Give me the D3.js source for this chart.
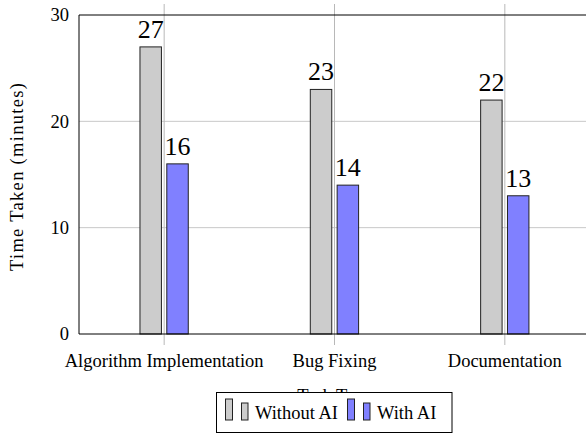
<!DOCTYPE html>
<html>
<head>
<meta charset="utf-8">
<script src="https://cdn.jsdelivr.net/npm/d3@7"></script>
<style>
  html, body { margin: 0; padding: 0; background: #fff; }
  svg { display: block; }
  text { font-family: "Liberation Serif", "Times New Roman", serif; fill: #000; }
</style>
</head>
<body>
<svg id="chart" width="586" height="437"></svg>
<script>
const categories = ["Algorithm Implementation", "Bug Fixing", "Documentation"];
const seriesNames = ["Without AI", "With AI"];
const withoutAI = [27, 23, 22];
const withAI = [16, 14, 13];
const yTicks = [0, 10, 20, 30];
const seriesColors = ["#cccccc", "#8080ff"];

const svg = d3.select("#chart");
const mLeft = 79, mRight = 590, mTop = 15, mBottom = 334;

const x = d3.scaleBand().domain(categories).range([mLeft, mRight]);
const y = d3.scaleLinear().domain([0, 30]).range([mBottom, mTop]);
const xs = d3.scaleBand().domain(seriesNames).range([-24.2, 24.1]).paddingInner(0.2);

const data = categories.map((c, i) => ({ cat: c, vals: [withoutAI[i], withAI[i]] }));

// horizontal grid
svg.append("g").selectAll("line").data(yTicks.filter(t => t > 0 && t < 30)).join("line")
  .attr("x1", mLeft).attr("x2", 586)
  .attr("y1", d => y(d)).attr("y2", d => y(d))
  .attr("stroke", "#c8c8c8").attr("stroke-width", 1);

// vertical grid / ticks
svg.append("g").selectAll("line").data(categories).join("line")
  .attr("x1", d => x(d) + x.bandwidth() / 2).attr("x2", d => x(d) + x.bandwidth() / 2)
  .attr("y1", 4).attr("y2", 345)
  .attr("stroke", "#b8b8b8").attr("stroke-width", 1);

// bars
const groups = svg.append("g").selectAll("g").data(data).join("g")
  .attr("transform", d => `translate(${x(d.cat) + x.bandwidth() / 2},0)`);

groups.selectAll("rect").data(d => d.vals.map((v, j) => ({ v, s: seriesNames[j], j }))).join("rect")
  .attr("x", d => xs(d.s))
  .attr("width", xs.bandwidth())
  .attr("y", d => y(d.v))
  .attr("height", d => y(0) - y(d.v))
  .attr("fill", d => seriesColors[d.j])
  .attr("stroke", "#222").attr("stroke-width", 1);

groups.selectAll("text.val").data(d => d.vals.map((v, j) => ({ v, s: seriesNames[j], j }))).join("text")
  .attr("class", "val")
  .attr("x", d => xs(d.s) + xs.bandwidth() / 2)
  .attr("y", d => y(d.v) - 9)
  .attr("text-anchor", "middle")
  .style("font-size", "26px")
  .text(d => d.v);

// spines
svg.append("line").attr("x1", mLeft).attr("x2", mLeft).attr("y1", mTop).attr("y2", mBottom).attr("stroke", "#000");
svg.append("line").attr("x1", mLeft).attr("x2", mRight).attr("y1", mBottom).attr("y2", mBottom).attr("stroke", "#000");
svg.append("line").attr("x1", mLeft).attr("x2", mRight).attr("y1", mTop).attr("y2", mTop).attr("stroke", "#000");

// y tick labels
svg.append("g").selectAll("text").data(yTicks).join("text")
  .attr("x", 69).attr("y", d => y(d)).attr("dy", "0.35em")
  .attr("text-anchor", "end")
  .style("font-size", "18.5px")
  .text(d => d);

// x tick labels
svg.append("g").selectAll("text").data(categories).join("text")
  .attr("x", d => x(d) + x.bandwidth() / 2).attr("y", 367)
  .attr("text-anchor", "middle")
  .style("font-size", "18.5px")
  .text(d => d);

// axis titles
svg.append("text").attr("transform", `translate(23,177) rotate(-90)`)
  .attr("text-anchor", "middle").style("font-size", "18.5px")
  .attr("textLength", 188).attr("lengthAdjust", "spacing")
  .text("Time Taken (minutes)");
svg.append("text").attr("x", 335).attr("y", 402).attr("text-anchor", "middle")
  .style("font-size", "18.5px").text("Task Type");

// legend
const lg = svg.append("g");
lg.append("rect").attr("x", 216.5).attr("y", 392.5).attr("width", 235.5).attr("height", 40)
  .attr("fill", "#fff").attr("stroke", "#000");
const legendX = [225.5, 347.5];
seriesNames.forEach((s, i) => {
  const bx = legendX[i];
  lg.append("rect").attr("x", bx).attr("y", 399).attr("width", 7).attr("height", 21)
    .attr("fill", seriesColors[i]).attr("stroke", "#222");
  lg.append("rect").attr("x", bx + 16).attr("y", 403).attr("width", 6.5).attr("height", 17)
    .attr("fill", seriesColors[i]).attr("stroke", "#222");
  lg.append("text").attr("x", bx + 29.5).attr("y", 419).style("font-size", "18.5px").text(s);
});
</script>
</body>
</html>
